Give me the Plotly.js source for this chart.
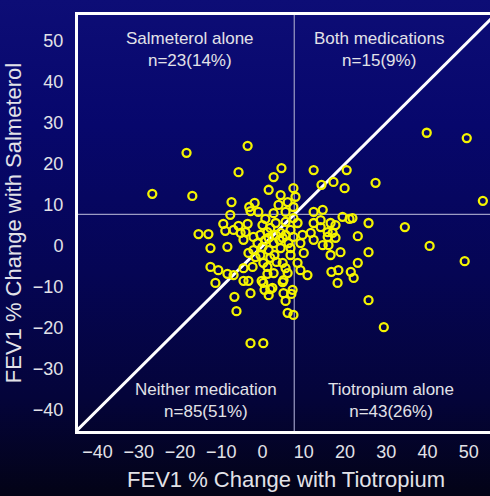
<!DOCTYPE html>
<html>
<head>
<meta charset="utf-8">
<script src="https://cdn.plot.ly/plotly-3.0.1.min.js"></script>
<style>
  html, body { margin:0; padding:0; width:490px; height:496px; overflow:hidden;
    background: linear-gradient(to bottom, #0d0d76 0%, #07076c 25%, #050554 55%, #04043a 80%, #030316 100%); }
  #chart { width:494px; height:496px; }
</style>
</head>
<body>
<div id="chart"></div>
<script>
// FEV1 % change with Tiotropium (x) and with Salmeterol (y), one entry per patient
const tiotropium = [
  -18.4, -3.6, -5.8, -26.7, -17.0, -7.5, 2.7, 1.5, -1.9,
  39.8, 49.5, 53.4, 27.4, 20.4, 12.4, 4.6, 14.3, 17.2, 19.9,
  25.7, 34.5, 40.5, 49.0, 23.1, 25.7, 23.1, 18.9, 21.1, 19.4, 21.8, 12.4, 14.6, 17.7, 17.0,
  25.7, 29.4, 18.2, 22.1, 21.4, 16.7, 10.9, 6.1, 4.9, 5.1, 7.0, 5.6, 6.1, 7.5, 18.4,
  16.5, 14.6, 12.4, 9.2, 10.0, 8.5, 6.8, 4.9, 2.7, 1.2, 0.2, 2.4, 5.1, 7.3, 1.5,
  15.8, 17.7, 16.0, 2.7, 4.4, 1.5, 7.5, 6.3,
  -11.4, -6.8, -6.3, -2.9, -2.9, 0.2, -4.6, -3.4, -0.2, 0.5, 1.9, 1.2, -8.5, -7.0,
  -3.2, -2.9, -1.0, 0.7, -9.5, -9.0, -7.0, -5.8, -3.6, -4.1, -5.3, -15.5, -13.1,
  -2.2, -0.5, 1.2, -12.6, -8.5, -4.6, 0.0, -12.6, -10.7, -4.6, -2.4, 0.2, -1.7, -0.5, -3.4,
  4.4, 7.5, 8.0, 6.1, 3.9, 7.5, 5.6, 2.7, 3.2, 5.6, 7.5, 8.5, 6.8, 4.4,
  14.1, 12.4, 14.1, 15.8, 16.5, 11.7, 9.7,
  0.0, 1.5, 3.2, -1.2, 1.9, 4.1, 5.6, -2.2, 2.9, -7.8, 5.6, 9.2,
  0.7, 4.9, 6.8, 3.4, 1.9
];
const salmeterol = [
  22.7, 24.4, 18.0, 12.7, 12.2, 10.7, 16.8, 13.7, 10.5,
  27.6, 26.3, 11.0, 15.4, 18.5, 18.5, 19.0, 14.9, 15.6, 14.1,
  5.6, 4.6, 0.0, -3.7, 2.4, -1.5, -4.1, -1.5, 6.6, 7.1, 6.8, 8.3, 8.8, 5.1, 3.2,
  -13.2, -19.8, -9.0, -7.8, -6.3, -6.3, -7.1, -6.6, -8.8, -11.5, -11.7, -13.4, -16.3, -16.8, -5.9,
  -2.2, 0.2, 1.5, 0.7, -1.7, -4.1, -2.2, -4.1, -6.6, -5.1, -9.0, -10.2, -8.3, -10.7, -12.0,
  2.2, 2.0, 0.2, 0.7, -0.5, -1.0, 2.2, 0.7,
  -9.0, -12.4, -15.9, -11.5, -23.7, -23.7, -8.5, -8.5, -8.5, -10.7, -10.5, -6.8, -6.8, -7.1,
  9.5, 8.5, 8.3, 6.6, 5.4, 3.7, 3.9, 4.9, 5.4, 3.4, 3.2, 2.9, 2.9,
  2.2, 2.7, 3.4, -0.5, -0.2, 1.5, -0.2, -5.1, -5.9, -5.4, -5.1, -4.1, -2.7, -2.2, -1.7,
  12.4, 14.1, 12.0, 10.7, 10.0, 9.5, 8.3, 8.0, 5.6, 5.9, 6.8, 5.6, 3.9, 3.2,
  6.3, 5.6, 4.6, 3.4, 5.6, 3.2, 2.7,
  5.1, 2.0, 2.7, 0.7, 4.4, 1.5, 2.7, -1.0, -2.2, 7.6, -5.4, -5.9,
  1.5, 2.0, -0.5, -3.9, -2.9
];
const tickValues = [-40, -30, -20, -10, 0, 10, 20, 30, 40, 50];
const responseThreshold = 7.7;          // response cut-off on both axes
const identityLine = [-60, 70];         // y = x reference line
const quadrantLabels = [
  "Salmeterol alone<br>n=23(14%)",
  "Both medications<br>n=15(9%)",
  "Neither medication<br>n=85(51%)",
  "Tiotropium alone<br>n=43(26%)"
];
const xRange = [-44.7, 56.1];
const yRange = [-45.1, 56.3];

const textColor = '#e2e2e8';
const fontFamily = 'Liberation Sans, Arial, sans-serif';

const traces = [
  { x: [responseThreshold, responseThreshold], y: identityLine, mode: 'lines',
    line: { color: '#9c9cc4', width: 1.2 }, hoverinfo: 'skip', showlegend: false },
  { x: identityLine, y: [responseThreshold, responseThreshold], mode: 'lines',
    line: { color: '#9c9cc4', width: 1.2 }, hoverinfo: 'skip', showlegend: false },
  { x: identityLine, y: identityLine, mode: 'lines',
    line: { color: '#ffffff', width: 3 }, hoverinfo: 'skip', showlegend: false },
  { x: tiotropium, y: salmeterol, mode: 'markers', type: 'scatter', showlegend: false,
    marker: { symbol: 'circle-open', size: 8, color: '#f4f400', line: { width: 2.3, color: '#f4f400' } } }
];

const annX = [-17.5, 28.2, -13.8, 31.1];
const annY = [47.9, 47.9, -37.6, -37.6];
const annotations = quadrantLabels.map((t, i) => ({
  x: annX[i], y: annY[i], xref: 'x', yref: 'y', text: t, showarrow: false,
  font: { family: fontFamily, size: 17, color: textColor }, align: 'center'
}));

const axisCommon = {
  showgrid: false, zeroline: false, showline: true, mirror: true,
  linecolor: '#ffffff', linewidth: 3, ticks: '', tickvals: tickValues,
  tickfont: { family: fontFamily, size: 18, color: textColor }, fixedrange: true
};

const layout = {
  width: 494, height: 496,
  margin: { l: 78, r: 0, t: 15, b: 65 },
  paper_bgcolor: 'rgba(0,0,0,0)', plot_bgcolor: 'rgba(0,0,0,0)',
  xaxis: Object.assign({}, axisCommon, {
    range: xRange, ticklabelstandoff: 2,
    title: { text: 'FEV1 % Change with Tiotropium', font: { family: fontFamily, size: 22, color: textColor }, standoff: 12 }
  }),
  yaxis: Object.assign({}, axisCommon, {
    range: yRange, ticklabelstandoff: 8,
    title: { text: 'FEV1 % Change with Salmeterol', font: { family: fontFamily, size: 22, color: textColor }, standoff: 6 }
  }),
  annotations: annotations
};

Plotly.newPlot('chart', traces, layout, { displayModeBar: false, staticPlot: true });
</script>
</body>
</html>
